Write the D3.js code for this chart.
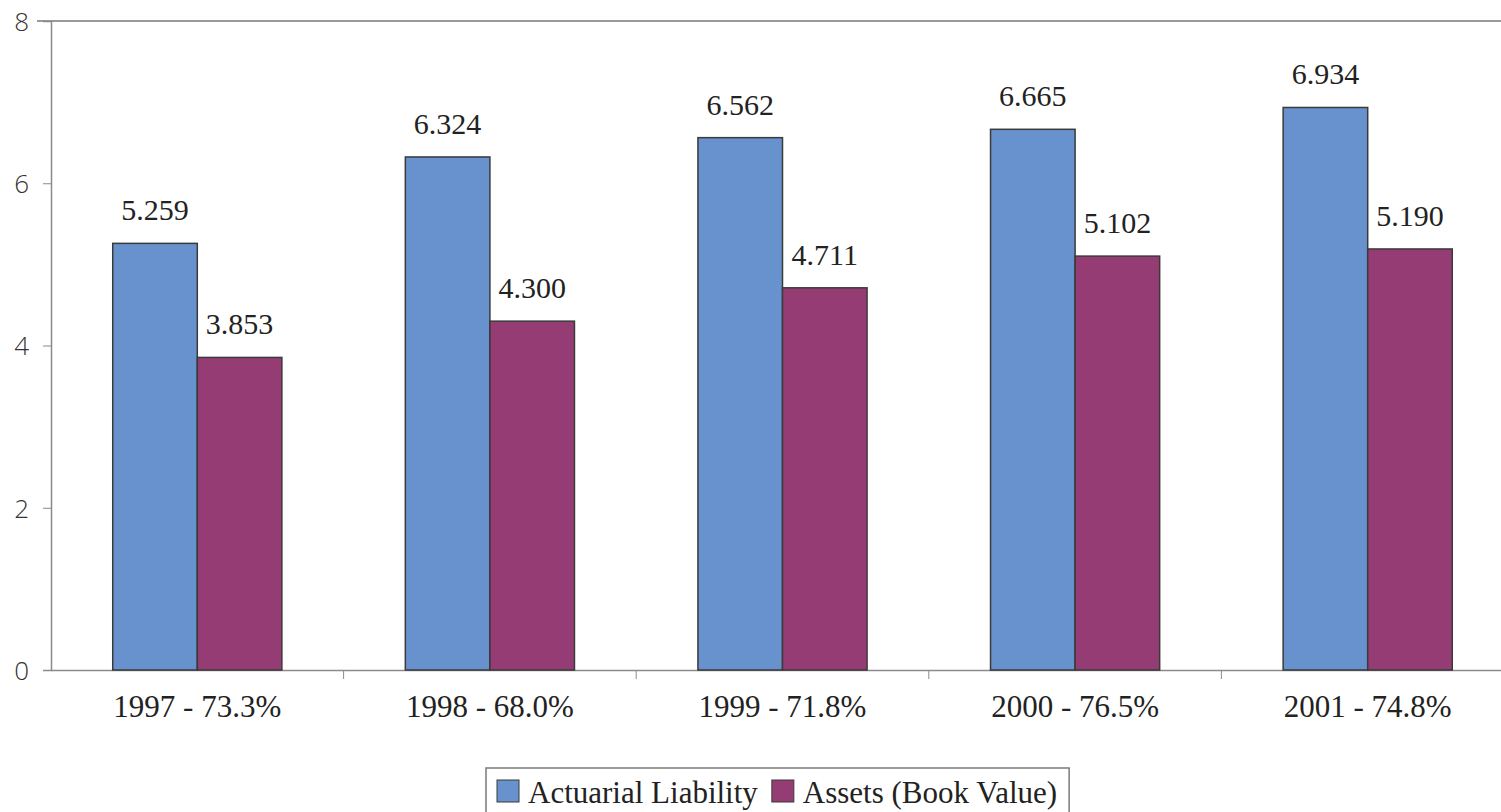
<!DOCTYPE html>
<html>
<head>
<meta charset="utf-8">
<script src="https://cdn.jsdelivr.net/npm/d3@7"></script>
<style>
  html, body { margin: 0; padding: 0; background: #fff; }
  svg { display: block; }
</style>
</head>
<body>
<svg id="chart" width="1501" height="812"></svg>
<script>
// Pension funding: liability vs assets per year (ratio in the category label)
const categories = ["1997 - 73.3%", "1998 - 68.0%", "1999 - 71.8%", "2000 - 76.5%", "2001 - 74.8%"];
const seriesNames = ["Actuarial Liability", "Assets (Book Value)"];
const liability = [5.259, 6.324, 6.562, 6.665, 6.934];
const assets = [3.853, 4.300, 4.711, 5.102, 5.190];
const yTicks = [0, 2, 4, 6, 8];
const colors = ["#6892CD", "#963C74"];

const SERIF = "'Liberation Serif', 'Times New Roman', serif";
const SANS = "'Open Sans', 'Liberation Sans', sans-serif";

const svg = d3.select("#chart");
const plot = { left: 51, right: 1514, top: 21, bottom: 670 };

const x0 = d3.scaleBand().domain(categories).range([plot.left, plot.right]).paddingInner(0).paddingOuter(0);
const x1 = d3.scaleBand().domain(seriesNames).range([0, x0.bandwidth()]).paddingInner(0).paddingOuter(0.73);
const y = d3.scaleLinear().domain([0, 8]).range([plot.bottom, plot.top]);

const rows = categories.map((c, i) => ({ cat: c, vals: [liability[i], assets[i]] }));

// top frame line
svg.append("line")
  .attr("x1", 37).attr("x2", 1501)
  .attr("y1", y(8)).attr("y2", y(8))
  .attr("stroke", "#9a9a9a").attr("stroke-width", 2);

// y axis
const yAxis = d3.axisLeft(y).tickValues(yTicks).tickSize(8).tickPadding(14).tickFormat(d3.format("d"));
const gy = svg.append("g").attr("transform", `translate(${plot.left},0)`).call(yAxis);
gy.select(".domain").attr("stroke", "#8a8a8a").attr("stroke-width", 1.5);
gy.selectAll(".tick line").attr("stroke", "#8a8a8a");
gy.selectAll(".tick text")
  .attr("font-size", 26)
  .attr("fill", "#333")
  .attr("dy", "0.36em")
  .style("font-family", SANS)
  .style("font-weight", 300);

// x axis
const xAxis = d3.axisBottom(x0).tickSize(0).tickPadding(47);
const gx = svg.append("g").attr("transform", `translate(0,${plot.bottom})`).call(xAxis);
gx.select(".domain").attr("stroke", "#8a8a8a").attr("stroke-width", 1.5);
gx.selectAll(".tick text")
  .attr("font-size", 31)
  .attr("fill", "#222")
  .attr("dy", "0")
  .style("font-family", SERIF);
// category separator ticks
gx.selectAll(".sep")
  .data(categories.slice(1))
  .join("line")
  .attr("class", "sep")
  .attr("x1", d => x0(d)).attr("x2", d => x0(d))
  .attr("y1", 0).attr("y2", 9)
  .attr("stroke", "#8a8a8a");

// bars
const groups = svg.append("g").selectAll("g")
  .data(rows)
  .join("g")
  .attr("transform", d => `translate(${x0(d.cat)},0)`);

groups.selectAll("rect")
  .data(d => d.vals.map((v, i) => ({ key: seriesNames[i], v, i })))
  .join("rect")
  .attr("x", d => x1(d.key))
  .attr("width", x1.bandwidth())
  .attr("y", d => y(d.v))
  .attr("height", d => y(0) - y(d.v))
  .attr("fill", d => colors[d.i])
  .attr("stroke", "#3a3a3a")
  .attr("stroke-width", 1.5);

// value labels
groups.selectAll("text.val")
  .data(d => d.vals.map((v, i) => ({ key: seriesNames[i], v, i })))
  .join("text")
  .attr("class", "val")
  .attr("x", d => x1(d.key) + x1.bandwidth() / 2)
  .attr("y", d => y(d.v) - 23)
  .attr("text-anchor", "middle")
  .attr("font-size", 30)
  .attr("fill", "#222")
  .style("font-family", SERIF)
  .text(d => d3.format(".3f")(d.v));

// legend
const legend = svg.append("g");
const legendBox = legend.append("rect")
  .attr("x", 486).attr("y", 768)
  .attr("height", 60)
  .attr("fill", "#fff")
  .attr("stroke", "#7a7a7a").attr("stroke-width", 1.5);

let cursor = 497;
seriesNames.forEach((name, i) => {
  legend.append("rect")
    .attr("x", cursor).attr("y", 780)
    .attr("width", 22).attr("height", 22)
    .attr("fill", colors[i])
    .attr("stroke", "#3a3a3a").attr("stroke-width", 1);
  const t = legend.append("text")
    .attr("x", cursor + 31).attr("y", 803)
    .attr("font-size", 31)
    .attr("fill", "#222")
    .style("font-family", SERIF)
    .text(name);
  cursor += 31 + t.node().getComputedTextLength() + 14;
});
legendBox.attr("width", cursor - 486 - 2);
</script>
</body>
</html>
